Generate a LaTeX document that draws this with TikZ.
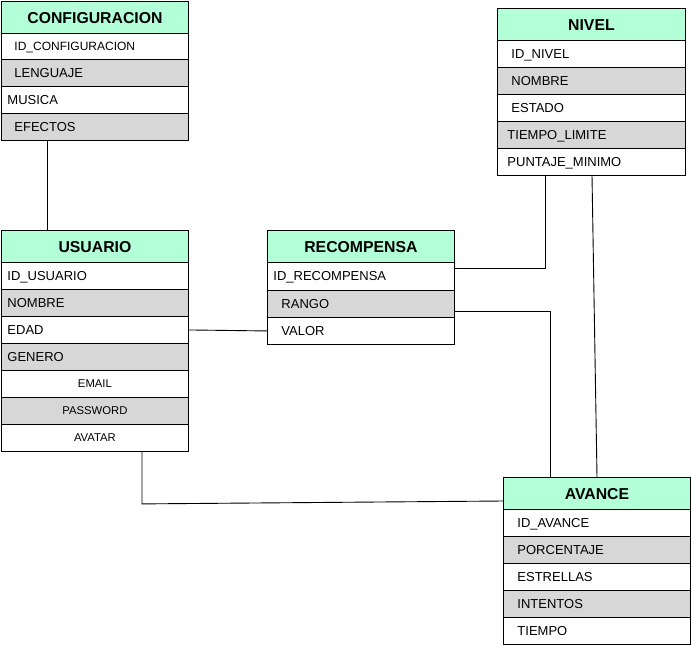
\documentclass[tikz,border=0pt]{standalone}
\usepackage{fontspec}
\setmainfont{Liberation Sans}
\definecolor{hdrgreen}{HTML}{B3FFD8}
\definecolor{rowgray}{HTML}{D7D7D7}
\newcommand\rowfnt{\fontsize{13}{14}\selectfont}
\newcommand\smallfnt{\fontsize{11.3}{13}\selectfont}
\newcommand\hdrfnt{\fontsize{15.8}{17}\selectfont\bfseries}
\tikzset{
  cellbase/.style={draw=black, line width=0.9pt, inner ysep=0pt, anchor=north west, font=\rowfnt, text=black, text height=8.8pt, text depth=0pt},
  gr/.style={fill=rowgray},
  wh/.style={fill=white},
  ctr/.style={align=center, font=\smallfnt, text height=8pt},
  hd/.style={fill=hdrgreen, align=center, font=\hdrfnt, text height=11.3pt},
  conn/.style={draw=black, line width=0.9pt},
}
% name, x, y, w, h, xoff, style, text
\newcommand\erow[8]{%
  \pgfmathsetmacro\erowtw{#4-2*#6}%
  \node[cellbase, minimum width=#4pt, minimum height=#5pt, inner xsep=#6pt, text width=\erowtw pt, align=left, #7] (#1) at (#2,#3) {#8};%
}
\begin{document}
\begin{tikzpicture}[x=1pt,y=-1pt]
\useasboundingbox (0,0) rectangle (692,645);
% CONFIGURACION
\erow{cfgH}{1}{1}{187}{32}{4}{hd}{CONFIGURACION}
\erow{cfg1}{1}{33}{187}{26}{13}{wh,font=\fontsize{12}{14}\selectfont}{ID\_CONFIGURACION}
\erow{cfg2}{1}{59}{187}{27}{13}{gr}{LENGUAJE}
\erow{cfg3}{1}{86}{187}{27}{6}{wh}{MUSICA}
\erow{cfg4}{1}{113}{187}{27}{13}{gr}{EFECTOS}
% USUARIO
\erow{usrH}{1}{230}{187}{32}{4}{hd}{USUARIO}
\erow{usr1}{1}{262}{187}{27}{6}{wh}{ID\_USUARIO}
\erow{usr2}{1}{289}{187}{27}{6}{gr}{NOMBRE}
\erow{usr3}{1}{316}{187}{27}{6}{wh}{EDAD}
\erow{usr4}{1}{343}{187}{27}{6}{gr}{GENERO}
\erow{usr5}{1}{370}{187}{27}{6}{wh,ctr}{EMAIL}
\erow{usr6}{1}{397}{187}{27}{6}{gr,ctr}{PASSWORD}
\erow{usr7}{1}{424}{187}{27}{6}{wh,ctr}{AVATAR}
% RECOMPENSA
\erow{recH}{267}{230}{187}{32}{4}{hd}{RECOMPENSA}
\erow{rec1}{267}{262}{187}{28}{6}{wh}{ID\_RECOMPENSA}
\erow{rec2}{267}{290}{187}{27}{14}{gr}{RANGO}
\erow{rec3}{267}{317}{187}{27}{14}{wh}{VALOR}
% NIVEL
\erow{nivH}{497}{8}{188}{32}{4}{hd}{NIVEL}
\erow{niv1}{497}{40}{188}{27}{14}{wh}{ID\_NIVEL}
\erow{niv2}{497}{67}{188}{27}{14}{gr}{NOMBRE}
\erow{niv3}{497}{94}{188}{27}{14}{wh}{ESTADO}
\erow{niv4}{497}{121}{188}{27}{10}{gr}{TIEMPO\_LIMITE}
\erow{niv5}{497}{148}{188}{27}{10}{wh}{PUNTAJE\_MINIMO}
% AVANCE
\erow{avH}{503}{477}{187}{32}{4}{hd}{AVANCE}
\erow{av1}{503}{509}{187}{27}{14}{wh}{ID\_AVANCE}
\erow{av2}{503}{536}{187}{27}{14}{gr}{PORCENTAJE}
\erow{av3}{503}{563}{187}{27}{14}{wh}{ESTRELLAS}
\erow{av4}{503}{590}{187}{27}{14}{gr}{INTENTOS}
\erow{av5}{503}{617}{187}{27}{14}{wh}{TIEMPO}
% connectors
\draw[conn] ([xshift=46pt]cfg4.south west) -- ([xshift=46pt]usrH.north west);
\draw[conn] (usr3.east) -- (rec3.west);
\draw[conn] ([xshift=48pt]niv5.south west) |- ([yshift=-6pt]rec1.north east);
\draw[conn] ([yshift=-21pt]rec2.north east) -| ([xshift=47pt]avH.north west);
\draw[conn] ([xshift=95pt]niv5.south west) -- ([xshift=94pt]avH.north west);
\draw[conn] ([xshift=141pt]usr7.south west) -- ++(0,52) -- ([yshift=-24pt]avH.north west);
\end{tikzpicture}
\end{document}
